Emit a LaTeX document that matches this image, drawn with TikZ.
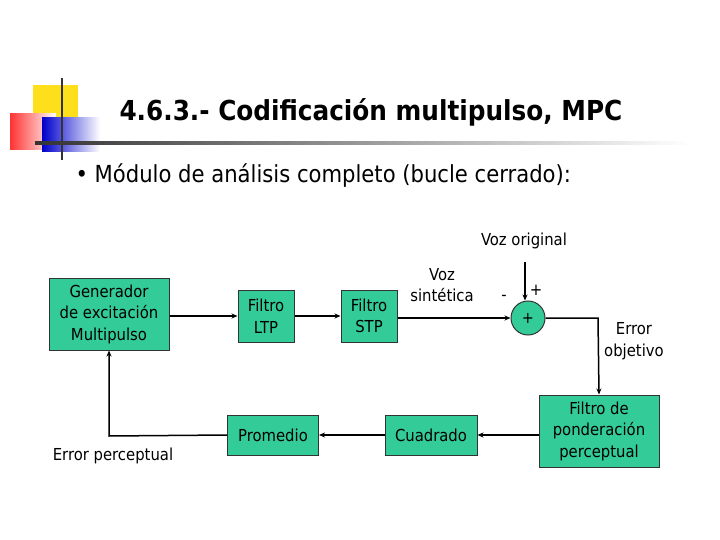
\documentclass[tikz,border=0pt]{standalone}
\usepackage{fontspec}
\setmainfont{DejaVu Sans}
\newfontfamily\cond{DejaVu Sans Condensed}
\usetikzlibrary{arrows.meta}
\definecolor{boxg}{RGB}{51,204,153}
\begin{document}
\begin{tikzpicture}[x=1pt,y=-1pt,
  blk/.style={draw=black!80,line width=1pt,fill=boxg,align=center,font=\cond\fontsize{16.5}{21.5}\selectfont,inner sep=1pt},
  lab/.style={align=center,font=\cond\fontsize{16.5}{21.5}\selectfont},
  arr/.style={-{Stealth[length=6pt,width=5pt]},line width=1.5pt}]
\useasboundingbox (0,0) rectangle (720,540);
% decoration
\fill[yellow!80!orange!90] (33,85) rectangle (78,130);
\shade[left color=red!80,right color=white] (10,114) rectangle (56,150);
\shade[left color=blue!80!black,right color=white] (42,118) rectangle (100,152);
\draw[line width=1.5pt,black!80] (62,78) -- (62,160);
\shade[left color=black!80,right color=white] (35,141.5) rectangle (690,144.5);
\node[anchor=west,font=\cond\bfseries\fontsize{27.5}{30}\selectfont] (title) at (116,112) {4.6.3.- Codificación multipulso, MPC};
\node[anchor=west,font=\cond\fontsize{23.5}{26}\selectfont] (bul) at (72,176) {• Módulo de análisis completo (bucle cerrado):};
% blocks
\node[blk,minimum width=120,minimum height=72] (gen) at (109,314) {Generador\\de excitación\\Multipulso};
\node[blk,minimum width=56,minimum height=52] (ltp) at (266,316) {Filtro\\LTP};
\node[blk,minimum width=56,minimum height=52] (stp) at (369,316) {Filtro\\STP};
\node[draw=black!80,line width=1pt,fill=boxg,circle,minimum size=34,inner sep=0,font=\cond\fontsize{16}{18}\selectfont] (sum) at (528,318) {+};
\node[blk,minimum width=120,minimum height=72] (pond) at (599,431) {Filtro de\\ponderación\\perceptual};
\node[blk,minimum width=92,minimum height=40] (cuad) at (431,435) {Cuadrado};
\node[blk,minimum width=91,minimum height=40] (prom) at (273,435) {Promedio};
% labels
\node[lab] (vo) at (524,241) {Voz original};
\node[lab] (vs) at (442,285) {Voz\\sintética};
\node[lab] (eo) at (634,341) {Error\\objetivo};
\node[lab] (ep) at (113,456) {Error perceptual};
\node[lab] (pl) at (536,290) {+};
\node[lab] (mi) at (504,298) {-};
\coordinate (vtop) at (525,262);
\coordinate (c1) at (598,318);
\coordinate (c2) at (109,436);
% connectors
\draw[arr] (gen.east|-ltp) -- (ltp.west);
\draw[arr] (ltp.east) -- (stp.west);
\draw[arr] (stp.east|-sum) -- (sum.west);
\draw[arr] (vtop) -- (vtop|-sum.north);
\draw[arr] (sum.east) -- (c1) -- (pond.north);
\draw[arr] (pond.west|-cuad) -- (cuad.east);
\draw[arr] (cuad.west) -- (prom.east);
\draw[arr] (prom.west) -- (c2) -- (gen.south);
\end{tikzpicture}
\end{document}
